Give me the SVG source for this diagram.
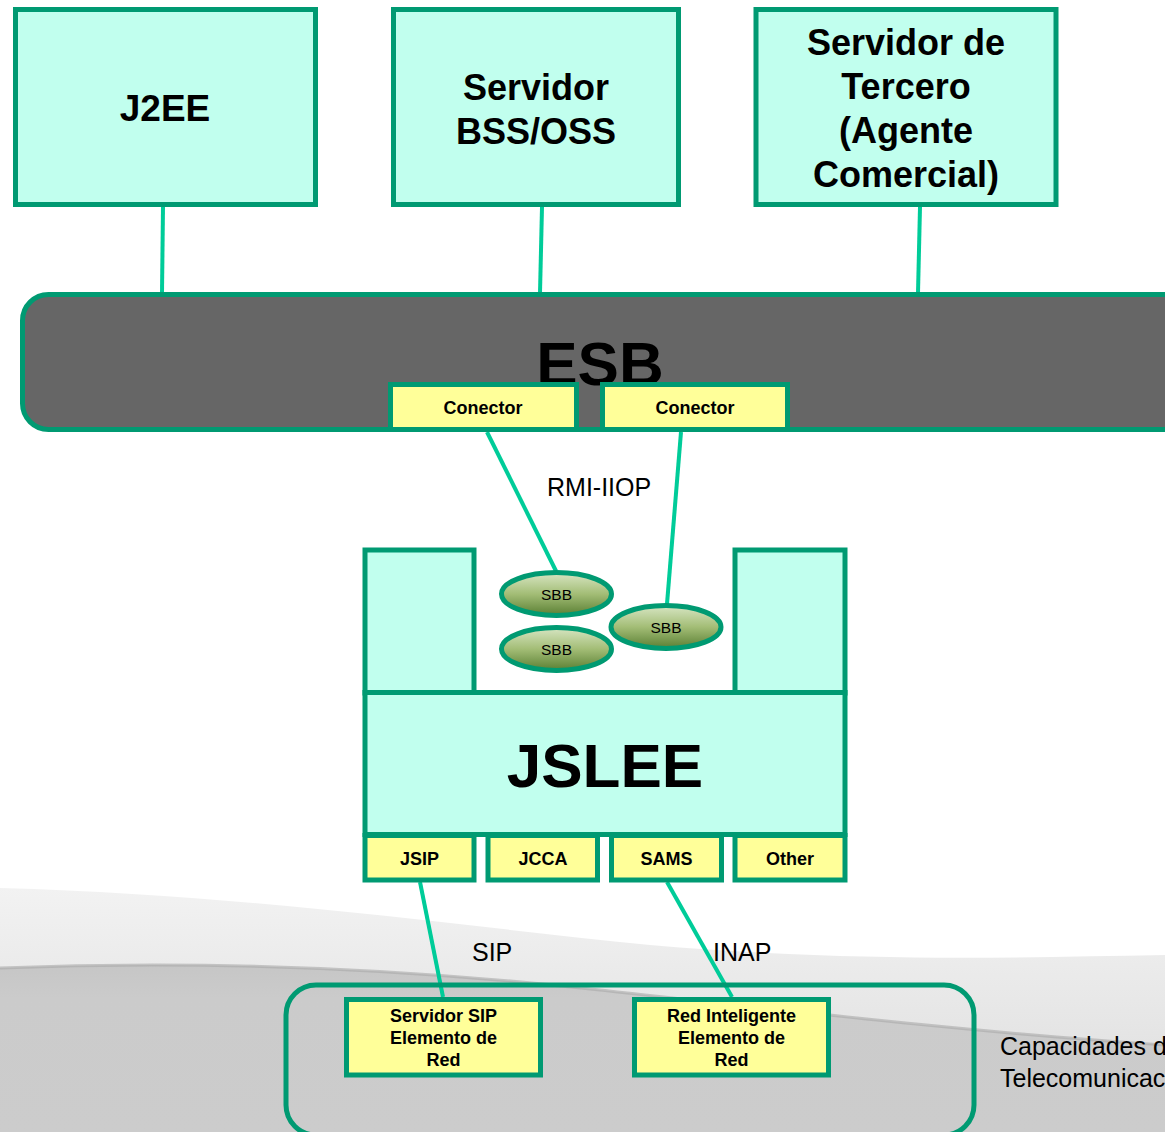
<svg xmlns="http://www.w3.org/2000/svg" width="1165" height="1132" viewBox="0 0 1165 1132">
  <defs>
    <linearGradient id="sbbGrad" x1="0" y1="0" x2="0" y2="1">
      <stop offset="0" stop-color="#D8E6C4"/>
      <stop offset="0.5" stop-color="#A3BD76"/>
      <stop offset="1" stop-color="#5A7F33"/>
    </linearGradient>
    <linearGradient id="bandGrad" x1="0" y1="0" x2="0" y2="1">
      <stop offset="0" stop-color="#F2F2F2"/>
      <stop offset="1" stop-color="#DCDCDC"/>
    </linearGradient>
    <linearGradient id="lowGrad" x1="0" y1="0" x2="0" y2="1">
      <stop offset="0" stop-color="#C6C6C6"/>
      <stop offset="0.2" stop-color="#CBCBCB"/>
      <stop offset="1" stop-color="#CCCCCC"/>
    </linearGradient>
  </defs>
  <style>
    .box { fill: #C1FFEE; stroke: #009A72; stroke-width: 5; }
    .ybox { fill: #FFFF99; stroke: #009A72; stroke-width: 5; }
    .sbb { fill: url(#sbbGrad); stroke: #009A72; stroke-width: 5; }
    .link { stroke: #00CC99; stroke-width: 4; fill: none; }
    .big { font-family: "Liberation Sans", Arial, sans-serif; font-weight: bold; font-size: 36px; fill: #000; text-anchor: middle; }
    .huge { font-family: "Liberation Sans", Arial, sans-serif; font-weight: bold; font-size: 62px; fill: #000; text-anchor: middle; }
    .small { font-family: "Liberation Sans", Arial, sans-serif; font-weight: bold; font-size: 18px; fill: #000; text-anchor: middle; }
    .lbl { font-family: "Liberation Sans", Arial, sans-serif; font-size: 25px; fill: #000; }
    .sbbt { font-family: "Liberation Sans", Arial, sans-serif; font-size: 15.5px; fill: #000; text-anchor: middle; }
  </style>

  <g id="background">
    <rect x="0" y="0" width="1165" height="1132" fill="#FFFFFF"/>
    <path d="M0,888 C250,895 450,925 650,945 C850,962 1000,958 1165,955 L1165,1132 L0,1132 Z" fill="url(#bandGrad)"/>
    <path d="M0,968 C200,960 400,968 600,990 C800,1012 1000,1035 1165,1045 L1165,1132 L0,1132 Z" fill="url(#lowGrad)"/>
    <path d="M0,968 C200,960 400,968 600,990 C800,1012 1000,1035 1165,1045" fill="none" stroke="#A8A8A8" stroke-width="3" opacity="0.6"/>
  </g>

  <g id="connectors">
    <line class="link" x1="163" y1="207" x2="162" y2="293"/>
    <line class="link" x1="542" y1="207" x2="540" y2="293"/>
    <line class="link" x1="920" y1="207" x2="918" y2="293"/>
    <line class="link" x1="487" y1="432" x2="556" y2="571"/>
    <line class="link" x1="681" y1="432" x2="667" y2="604"/>
    <line class="link" x1="420" y1="882" x2="443" y2="997"/>
    <line class="link" x1="667" y1="882" x2="732" y2="997"/>
  </g>

  <g id="labels">
    <text class="lbl" x="547" y="496">RMI-IIOP</text>
    <text class="lbl" x="472" y="961">SIP</text>
    <text class="lbl" x="713" y="961">INAP</text>
    <text class="lbl" x="1000" y="1055">Capacidades de</text>
    <text class="lbl" x="1000" y="1087">Telecomunicaciones</text>
  </g>

  <g id="j2ee">
    <rect class="box" x="15.5" y="9.5" width="300" height="195"/>
    <text class="big" x="165" y="121" style="font-size:37px">J2EE</text>
  </g>
  <g id="bss">
    <rect class="box" x="393.5" y="9.5" width="285" height="195"/>
    <text class="big" x="536" y="100">Servidor</text>
    <text class="big" x="536" y="144">BSS/OSS</text>
  </g>
  <g id="tercero">
    <rect class="box" x="756" y="9.5" width="300" height="195"/>
    <text class="big" x="906" y="55">Servidor de</text>
    <text class="big" x="906" y="99">Tercero</text>
    <text class="big" x="906" y="143">(Agente</text>
    <text class="big" x="906" y="187">Comercial)</text>
  </g>

  <g id="esb">
    <rect x="22.5" y="294.5" width="1170" height="135" rx="26" ry="26" fill="#666666" stroke="#009A72" stroke-width="5"/>
    <text class="huge" x="600" y="385">ESB</text>
  </g>
  <g id="conector1">
    <rect class="ybox" x="390.5" y="384.5" width="186" height="45"/>
    <text class="small" x="483" y="414">Conector</text>
  </g>
  <g id="conector2">
    <rect class="ybox" x="602.5" y="384.5" width="185" height="45"/>
    <text class="small" x="695" y="414">Conector</text>
  </g>

  <g id="jslee">
    <rect class="box" x="365" y="550" width="109" height="143"/>
    <rect class="box" x="735" y="550" width="110" height="143"/>
    <rect class="box" x="365" y="692.5" width="480" height="142"/>
    <text class="huge" x="605" y="787">JSLEE</text>
  </g>

  <g id="sbb1">
    <ellipse class="sbb" cx="556.5" cy="594" rx="55" ry="21.5"/>
    <text class="sbbt" x="556.5" y="600">SBB</text>
  </g>
  <g id="sbb2">
    <ellipse class="sbb" cx="556.5" cy="649" rx="55" ry="21.5"/>
    <text class="sbbt" x="556.5" y="655">SBB</text>
  </g>
  <g id="sbb3">
    <ellipse class="sbb" cx="666" cy="627" rx="55" ry="21.5"/>
    <text class="sbbt" x="666" y="633">SBB</text>
  </g>

  <g id="jsip">
    <rect class="ybox" x="365" y="835.5" width="109" height="44.5"/>
    <text class="small" x="419.5" y="865">JSIP</text>
  </g>
  <g id="jcca">
    <rect class="ybox" x="488" y="835.5" width="109.5" height="44.5"/>
    <text class="small" x="543" y="865">JCCA</text>
  </g>
  <g id="sams">
    <rect class="ybox" x="611.5" y="835.5" width="110" height="44.5"/>
    <text class="small" x="666.5" y="865">SAMS</text>
  </g>
  <g id="other">
    <rect class="ybox" x="735" y="835.5" width="110" height="44.5"/>
    <text class="small" x="790" y="865">Other</text>
  </g>

  <g id="capacidades">
    <rect x="286" y="985" width="688" height="150" rx="30" ry="30" fill="none" stroke="#009A72" stroke-width="5"/>
  </g>
  <g id="servidor-sip">
    <rect class="ybox" x="346.5" y="999.5" width="194" height="75.5"/>
    <text class="small" x="443.5" y="1022">Servidor SIP</text>
    <text class="small" x="443.5" y="1044">Elemento de</text>
    <text class="small" x="443.5" y="1066">Red</text>
  </g>
  <g id="red-inteligente">
    <rect class="ybox" x="634.5" y="999.5" width="194" height="75.5"/>
    <text class="small" x="731.5" y="1022">Red Inteligente</text>
    <text class="small" x="731.5" y="1044">Elemento de</text>
    <text class="small" x="731.5" y="1066">Red</text>
  </g>
</svg>
